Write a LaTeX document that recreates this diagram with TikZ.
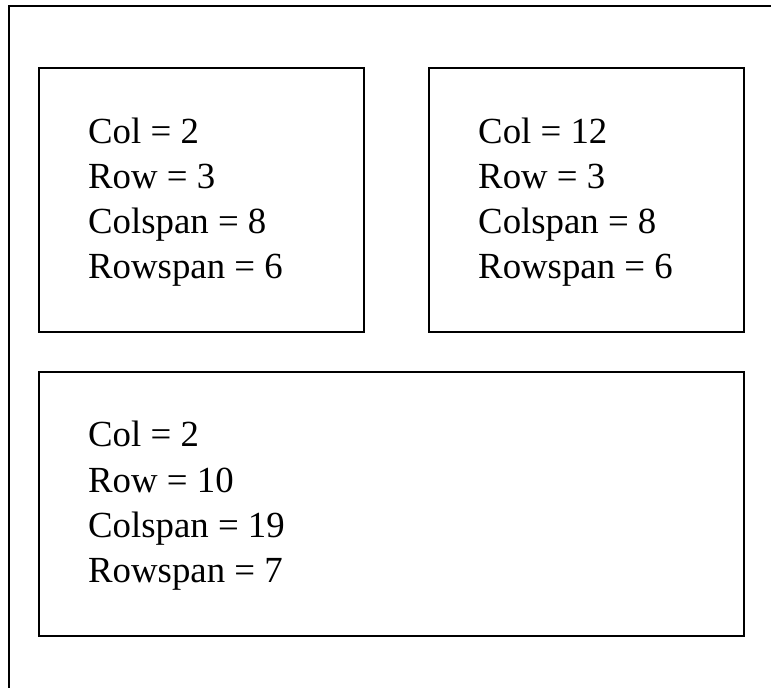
\documentclass[tikz,border=0pt]{standalone}
\usepackage{fontspec}
\setmainfont{Liberation Serif}
\begin{document}
\begin{tikzpicture}[x=1pt,y=1pt,
  frame/.style={draw=black, line width=2pt},
  box/.style={draw=black, line width=2pt, rectangle, inner sep=0pt},
  info/.style={anchor=base west, align=left, inner sep=0pt,
    font=\fontsize{36.8}{45.2}\selectfont}]
\clip (0,0) rectangle (771,-688);
\fill[white] (0,0) rectangle (771,-688);
\draw[frame] (9,-6) rectangle (790,-710);
\node[box, minimum width=325pt, minimum height=264pt, anchor=north west] (b1) at (38,-67) {};
\node[box, minimum width=315pt, minimum height=264pt, anchor=north west] (b2) at (428,-67) {};
\node[box, minimum width=705pt, minimum height=264pt, anchor=north west] (b3) at (38,-371) {};
\node[info] (t1) at (88,-278.8) {Col = 2\\Row = 3\\Colspan = 8\\Rowspan = 6};
\node[info] (t2) at (478,-278.8) {Col = 12\\Row = 3\\Colspan = 8\\Rowspan = 6};
\node[info] (t3) at (88,-582.4) {Col = 2\\Row = 10\\Colspan = 19\\Rowspan = 7};
\end{tikzpicture}
\end{document}
